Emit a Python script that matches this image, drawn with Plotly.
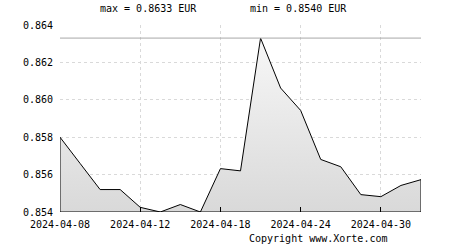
import plotly.graph_objects as go

dates = ["2024-04-08", "2024-04-09", "2024-04-10", "2024-04-11", "2024-04-12",
         "2024-04-15", "2024-04-16", "2024-04-17", "2024-04-18", "2024-04-19",
         "2024-04-22", "2024-04-23", "2024-04-24", "2024-04-25", "2024-04-26",
         "2024-04-29", "2024-04-30", "2024-05-01", "2024-05-02"]
values = [0.8580, 0.8566, 0.8552, 0.8552, 0.85425,
          0.8540, 0.8544, 0.8540, 0.85632, 0.8562,
          0.8633, 0.86063, 0.85943, 0.85681, 0.85642,
          0.85493, 0.85482, 0.85542, 0.85573]
y_ticks = [0.854, 0.856, 0.858, 0.860, 0.862, 0.864]
x_tick_dates = ["2024-04-08", "2024-04-12", "2024-04-18", "2024-04-24", "2024-04-30"]
currency = "EUR"

y_lo, y_hi = y_ticks[0], y_ticks[-1]
vmax, vmin = max(values), min(values)
FONT = "DejaVu Sans Mono"

fig = go.Figure()

# filled area polygon (closed down to axis bottom)
px_ = [dates[0]] + dates + [dates[-1], dates[0]]
py_ = [y_lo] + values + [y_lo, y_lo]
fig.add_trace(go.Scatter(
    x=px_, y=py_, mode="lines", fill="toself",
    fillgradient=dict(type="vertical",
                      colorscale=[[0, "#d9d9d9"], [1, "#f7f7f7"]]),
    line=dict(color="#000000", width=1),
    hoverinfo="skip", showlegend=False,
))

# max line
fig.add_trace(go.Scatter(
    x=[dates[0], dates[-1]], y=[vmax, vmax], mode="lines",
    line=dict(color="#a8a8a8", width=1), hoverinfo="skip", showlegend=False,
))

grid = dict(showgrid=True, gridcolor="#d9d9d9", gridwidth=1, griddash="3px,3px")

fig.update_xaxes(
    type="category", categoryorder="array", categoryarray=dates,
    range=[0, len(dates) - 1],
    tickmode="array", tickvals=x_tick_dates + [dates[-1]],
    ticktext=x_tick_dates + [""],
    ticks="inside", ticklen=5, tickcolor="#000000", tickwidth=1,
    showline=False, zeroline=False,
    tickfont=dict(family=FONT, size=10, color="#000000"),
    ticklabelstandoff=5,
    **grid,
)
fig.update_yaxes(
    range=[y_lo, y_hi], tickmode="array", tickvals=y_ticks,
    ticktext=[f"{v:.3f}" for v in y_ticks],
    ticks="", showline=False, zeroline=False,
    tickfont=dict(family=FONT, size=10, color="#000000"),
    ticklabelstandoff=6,
    **grid,
)

fig.update_layout(
    width=450, height=250,
    margin=dict(l=60, r=29, t=25, b=38),
    paper_bgcolor="#ffffff", plot_bgcolor="#ffffff",
    font=dict(family=FONT, size=10, color="#000000"),
    annotations=[
        dict(text=f"max = {vmax:.4f} {currency}", xref="paper", yref="paper",
             x=(148 - 60) / 361, y=1 + (25 - 8) / 187, showarrow=False,
             xanchor="center", yanchor="middle", font=dict(family=FONT, size=10)),
        dict(text=f"min = {vmin:.4f} {currency}", xref="paper", yref="paper",
             x=(298 - 60) / 361, y=1 + (25 - 8) / 187, showarrow=False,
             xanchor="center", yanchor="middle", font=dict(family=FONT, size=10)),
        dict(text="Copyright www.Xorte.com", xref="paper", yref="paper",
             x=(318 - 60) / 361, y=-(238 - 212) / 187, showarrow=False,
             xanchor="center", yanchor="middle", font=dict(family=FONT, size=10)),
    ],
)

fig.write_html("out.html")
